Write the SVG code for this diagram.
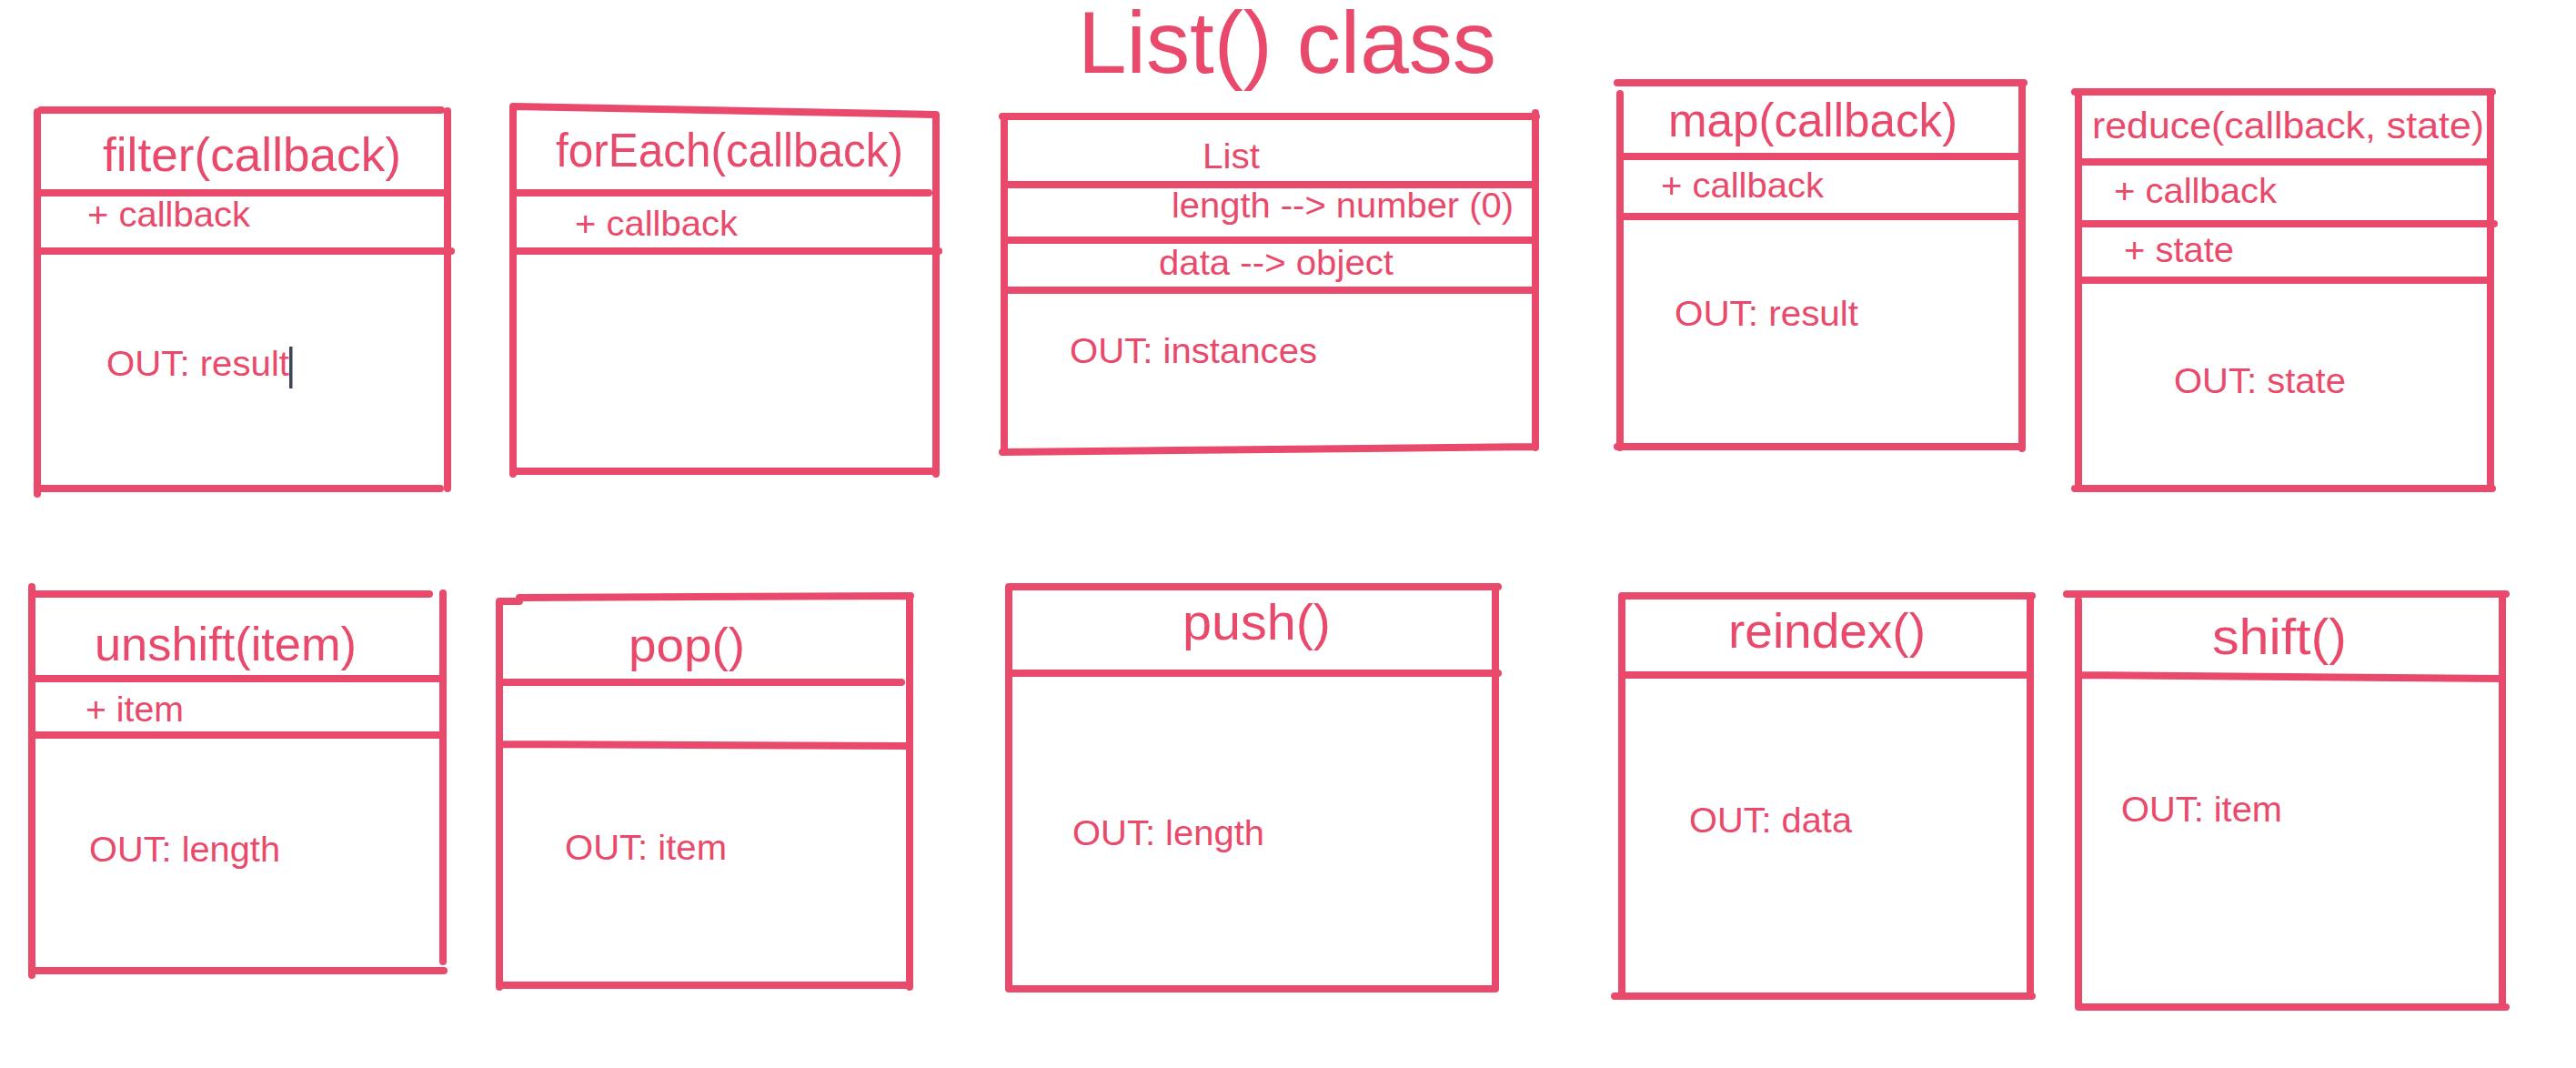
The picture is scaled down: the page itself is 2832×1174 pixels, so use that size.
<svg xmlns="http://www.w3.org/2000/svg" width="2832" height="1174" viewBox="0 0 2832 1174">
<style>
.ln{stroke:#E94A6B;stroke-width:8;stroke-linecap:round;fill:none}
.t{font-family:"Liberation Sans",Arial,sans-serif;fill:#E94A6B;lengthAdjust:spacingAndGlyphs}
.h{font-size:52px}
.b{font-size:39px}
</style>
<rect width="2832" height="1174" fill="#ffffff"/>
<text class="t" x="1185" y="80" font-size="96" textLength="460" lengthAdjust="spacingAndGlyphs">List() class</text>
<g id="connectors"/>
<g id="filter">
<path class="ln" d="M41 123V543M45 121H485M492 122V537M41 212H492M41 276H496M41 537H484"/>
<text class="t h" x="113" y="188" textLength="328" lengthAdjust="spacingAndGlyphs">filter(callback)</text>
<text class="t b" x="96" y="249" textLength="179" lengthAdjust="spacingAndGlyphs">+ callback</text>
<text class="t b" x="117" y="413" textLength="201" lengthAdjust="spacingAndGlyphs">OUT: result</text>
<rect x="318" y="381" width="3.5" height="46" fill="#3D4556"/>
</g>
<g id="forEach">
<path class="ln" d="M564 117V521M564 117L1029 126M1029 126V521M564 212H1021M564 276H1032M564 518H1029"/>
<text class="t h" x="611" y="183" textLength="382" lengthAdjust="spacingAndGlyphs">forEach(callback)</text>
<text class="t b" x="632" y="259" textLength="179" lengthAdjust="spacingAndGlyphs">+ callback</text>
</g>
<g id="List">
<path class="ln" d="M1102 128H1689M1104 128V497M1688 124V492M1102 497L1688 491M1106 203H1688M1106 264H1688M1106 319H1688"/>
<text class="t b" x="1322" y="185" textLength="63" lengthAdjust="spacingAndGlyphs">List</text>
<text class="t b" x="1288" y="239" textLength="376" lengthAdjust="spacingAndGlyphs">length --&gt; number (0)</text>
<text class="t b" x="1274" y="302" textLength="258" lengthAdjust="spacingAndGlyphs">data --&gt; object</text>
<text class="t b" x="1176" y="399" textLength="272" lengthAdjust="spacingAndGlyphs">OUT: instances</text>
</g>
<g id="map">
<path class="ln" d="M1778 91H2225M1781 103V492M2223 91V493M1781 172H2223M1781 238H2223M1778 491H2223"/>
<text class="t h" x="1834" y="150" textLength="318" lengthAdjust="spacingAndGlyphs">map(callback)</text>
<text class="t b" x="1826" y="217" textLength="179" lengthAdjust="spacingAndGlyphs">+ callback</text>
<text class="t b" x="1841" y="358" textLength="202" lengthAdjust="spacingAndGlyphs">OUT: result</text>
</g>
<g id="reduce">
<path class="ln" d="M2281 101H2740M2285 101V537M2738 101V537M2285 178H2738M2285 246H2742M2285 308H2738M2281 537H2740"/>
<text class="t" font-size="41" x="2300" y="152" textLength="431" lengthAdjust="spacingAndGlyphs">reduce(callback, state)</text>
<text class="t b" x="2324" y="223" textLength="179" lengthAdjust="spacingAndGlyphs">+ callback</text>
<text class="t b" x="2335" y="288" textLength="121" lengthAdjust="spacingAndGlyphs">+ state</text>
<text class="t b" x="2390" y="432" textLength="189" lengthAdjust="spacingAndGlyphs">OUT: state</text>
</g>
<g id="unshift">
<path class="ln" d="M35 645V1072M35 653H472M487 652V1057M35 746H487M35 808H487M35 1067H488"/>
<text class="t h" x="104" y="726" textLength="288" lengthAdjust="spacingAndGlyphs">unshift(item)</text>
<text class="t b" x="94" y="793" textLength="108" lengthAdjust="spacingAndGlyphs">+ item</text>
<text class="t b" x="98" y="947" textLength="210" lengthAdjust="spacingAndGlyphs">OUT: length</text>
</g>
<g id="pop">
<path class="ln" d="M549 661V1085M549 661H571M571 657L1001 655M1000 655V1085M549 750H991M549 818L1000 820M549 1083H1000"/>
<text class="t h" x="691" y="727" textLength="128" lengthAdjust="spacingAndGlyphs">pop()</text>
<text class="t b" x="621" y="945" textLength="178" lengthAdjust="spacingAndGlyphs">OUT: item</text>
</g>
<g id="push">
<path class="ln" d="M1109 645H1647M1109 645V1087M1644 645V1087M1109 740H1647M1109 1087H1644"/>
<text class="t" font-size="55" x="1300" y="703" textLength="163" lengthAdjust="spacingAndGlyphs">push()</text>
<text class="t b" x="1179" y="929" textLength="211" lengthAdjust="spacingAndGlyphs">OUT: length</text>
</g>
<g id="reindex">
<path class="ln" d="M1783 655H2234M1783 655V1095M2232 655V1095M1783 742H2232M1775 1095H2234"/>
<text class="t" font-size="54" x="1900" y="712" textLength="217" lengthAdjust="spacingAndGlyphs">reindex()</text>
<text class="t b" x="1857" y="915" textLength="179" lengthAdjust="spacingAndGlyphs">OUT: data</text>
</g>
<g id="shift">
<path class="ln" d="M2272 653H2755M2285 660V1107M2751 653V1107M2285 742L2751 746M2285 1107H2755"/>
<text class="t" font-size="56" x="2432" y="719" textLength="148" lengthAdjust="spacingAndGlyphs">shift()</text>
<text class="t b" x="2332" y="903" textLength="177" lengthAdjust="spacingAndGlyphs">OUT: item</text>
</g>
</svg>
